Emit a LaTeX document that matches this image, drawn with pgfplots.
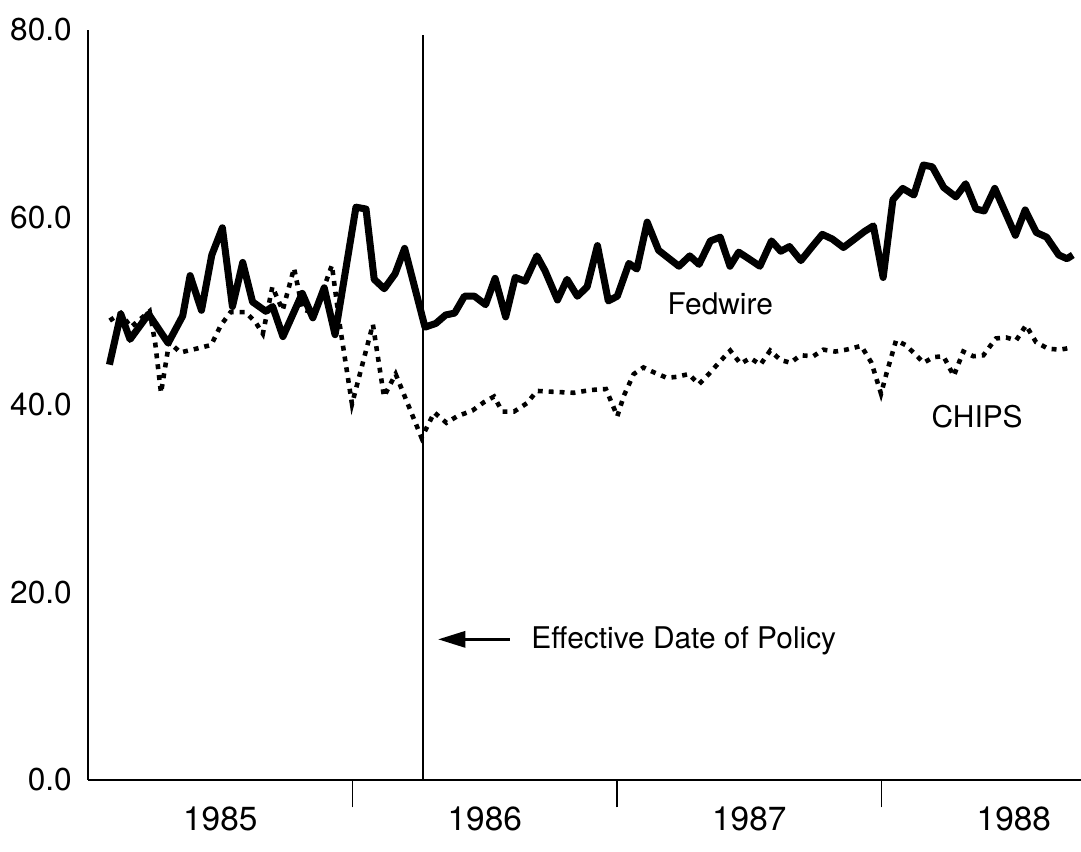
\documentclass[border=0pt]{standalone}
\usepackage{fontspec}
\setmainfont{TeX Gyre Heros}
\usepackage{pgfplots}
\pgfplotsset{compat=1.18}
\usetikzlibrary{arrows.meta}
\pgfplotstableread{
t v
1985.081 44.3
1985.124 49.7
1985.159 47.0
1985.229 49.7
1985.303 46.6
1985.358 49.5
1985.386 53.8
1985.429 50.1
1985.468 56.0
1985.508 58.9
1985.546 50.5
1985.585 55.2
1985.622 51.0
1985.672 50.0
1985.698 50.5
1985.737 47.3
1985.810 51.9
1985.850 49.3
1985.893 52.5
1985.934 47.5
1986.013 61.1
1986.051 60.9
1986.082 53.4
1986.120 52.4
1986.161 54.0
1986.197 56.7
1986.274 48.3
1986.315 48.7
1986.352 49.6
1986.386 49.8
1986.423 51.6
1986.461 51.6
1986.503 50.7
1986.539 53.5
1986.579 49.4
1986.615 53.6
1986.653 53.2
1986.697 55.9
1986.728 54.3
1986.775 51.2
1986.811 53.4
1986.850 51.6
1986.887 52.6
1986.926 57.0
1986.967 51.1
1987.001 51.6
1987.045 55.1
1987.075 54.5
1987.114 59.5
1987.157 56.5
1987.234 54.8
1987.275 55.9
1987.310 55.0
1987.353 57.5
1987.390 57.9
1987.427 54.8
1987.460 56.3
1987.498 55.6
1987.540 54.8
1987.584 57.5
1987.619 56.4
1987.652 56.9
1987.695 55.4
1987.735 56.8
1987.776 58.2
1987.814 57.7
1987.856 56.8
1987.898 57.7
1987.935 58.5
1987.969 59.1
1988.006 53.6
1988.043 61.9
1988.080 63.1
1988.122 62.4
1988.158 65.6
1988.192 65.4
1988.235 63.2
1988.281 62.2
1988.318 63.6
1988.357 60.9
1988.388 60.7
1988.428 63.1
1988.506 58.1
1988.543 60.8
1988.585 58.4
1988.624 57.9
1988.670 56.0
1988.701 55.6
1988.723 56.0
}\fedwire
\pgfplotstableread{
t v
1985.082 49.0
1985.124 49.8
1985.162 48.3
1985.233 50.0
1985.254 46.6
1985.276 41.3
1985.307 46.7
1985.349 45.6
1985.409 46.0
1985.466 46.4
1985.502 48.5
1985.539 49.9
1985.596 49.9
1985.634 48.8
1985.661 47.6
1985.697 52.6
1985.736 50.1
1985.779 54.6
1985.811 50.2
1985.857 49.8
1985.922 54.9
1985.952 48.5
1985.998 40.1
1986.077 48.6
1986.119 40.9
1986.163 43.3
1986.261 36.5
1986.309 39.2
1986.355 38.1
1986.396 38.8
1986.453 39.4
1986.497 40.3
1986.535 40.9
1986.566 39.3
1986.611 39.3
1986.660 40.2
1986.697 41.5
1986.762 41.4
1986.837 41.3
1986.901 41.6
1986.958 41.7
1987.001 38.8
1987.026 41.0
1987.063 43.3
1987.100 44.0
1987.138 43.5
1987.188 42.9
1987.226 43.0
1987.271 43.3
1987.309 42.2
1987.347 43.3
1987.391 44.7
1987.428 45.8
1987.467 44.4
1987.504 45.0
1987.542 44.3
1987.579 45.8
1987.618 44.8
1987.656 44.5
1987.693 45.3
1987.742 45.2
1987.780 45.9
1987.825 45.7
1987.867 45.9
1987.923 46.3
1987.962 44.5
1987.998 41.2
1988.019 43.4
1988.055 46.9
1988.090 46.4
1988.128 45.4
1988.159 44.5
1988.196 45.1
1988.234 45.2
1988.273 43.1
1988.309 45.7
1988.347 45.2
1988.385 45.3
1988.411 46.3
1988.433 47.1
1988.471 47.2
1988.509 46.9
1988.546 48.5
1988.584 46.7
1988.630 46.0
1988.676 45.9
1988.713 46.1
}\chips
\begin{document}
\begin{tikzpicture}
\begin{axis}[
  name=ax,
  width=19.86cm, height=15cm, scale only axis,
  xmin=1985, xmax=1988.754, ymin=0, ymax=80,
  axis lines*=left,
  axis line style={line width=1.1pt},
  xtick={1985.5,1986.5,1987.5,1988.5},
  xticklabels={1985,1986,1987,1988},
  minor xtick={1986,1987,1988},
  tick align=outside,
  major tick length=0pt,
  minor tick length=0.55cm,
  minor tick style={line width=1pt, black},
  ytick={0,20,40,60,80},
  ytick style={draw=none},
  yticklabel style={font=\fontsize{18}{21}\selectfont, xshift=-0.2cm, /pgf/number format/fixed, /pgf/number format/fixed zerofill, /pgf/number format/precision=1, /pgf/number format/assume math mode=true},
  xticklabel style={font=\fontsize{19}{22}\selectfont, yshift=-0.42cm},
]
\addplot[line width=1.2pt, black] coordinates {(1986.265,0) (1986.265,79.5)};
\addplot[line width=2.6pt, black, dash pattern=on 2.8pt off 3.4pt] table[x=t,y=v] {\chips};
\addplot[line width=4pt, black, line join=round] table[x=t,y=v] {\fedwire};
\draw[line width=2pt, -{Triangle[length=0.55cm,width=0.32cm]}] (axis cs:1986.595,15.0) -- (axis cs:1986.323,15.0);
\node[anchor=west, inner sep=0pt, font=\fontsize{17}{20}\selectfont] at (axis cs:1986.675,14.8) {Effective Date of Policy};
\node[anchor=west, inner sep=0pt, font=\fontsize{17}{20}\selectfont] at (axis cs:1987.19,50.8) {Fedwire};
\node[anchor=west, inner sep=0pt, font=\fontsize{17}{20}\selectfont] at (axis cs:1988.188,38.8) {CHIPS};
\end{axis}
\pgfresetboundingbox
\path[use as bounding box] ([xshift=-1.76cm,yshift=-1.44cm]ax.south west) rectangle ([yshift=0.6cm]ax.north east);
\end{tikzpicture}
\end{document}
